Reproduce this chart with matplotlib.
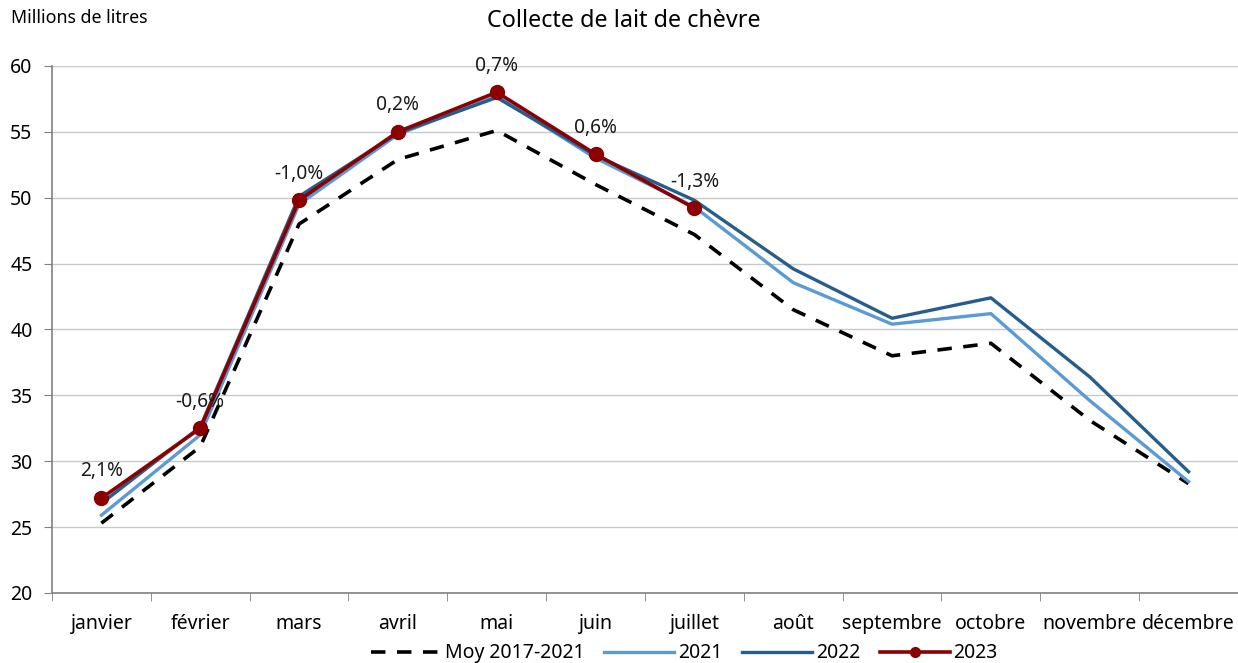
import matplotlib.pyplot as plt

plt.rcParams['font.family'] = ['Noto Sans', 'DejaVu Sans']

mois = ['janvier', 'février', 'mars', 'avril', 'mai', 'juin', 'juillet',
        'août', 'septembre', 'octobre', 'novembre', 'décembre']

moy_2017_2021 = [25.3, 31.1, 48.0, 52.9, 55.1, 51.0, 47.2, 41.5, 38.0, 38.95, 33.1, 28.3]
lait_2021 = [25.9, 32.0, 49.5, 54.8, 57.7, 53.0, 49.3, 43.55, 40.4, 41.2, 34.6, 28.45]
lait_2022 = [26.8, 32.6, 50.1, 54.9, 57.6, 53.2, 49.8, 44.6, 40.85, 42.4, 36.4, 29.2]
lait_2023 = [27.2, 32.5, 49.8, 55.0, 58.0, 53.3, 49.2]
evolution = ['2,1%', '-0,6%', '-1,0%', '0,2%', '0,7%', '0,6%', '-1,3%']

fig = plt.figure(figsize=(12.38, 6.63), dpi=100)
ax = fig.add_axes([0.042, 0.1056, 0.958, 0.795])

x = list(range(len(mois)))
ax.plot(x, moy_2017_2021, color='black', lw=2.6, dashes=(4, 3.2), label='Moy 2017-2021')
ax.plot(x, lait_2021, color='#5b9bd5', lw=2.4, label='2021')
ax.plot(x, lait_2022, color='#255e8c', lw=2.4, label='2022')
ax.plot(range(len(lait_2023)), lait_2023, color='#8b0000', lw=2.6,
        marker='o', markersize=10, label='2023')

for i, (v, txt) in enumerate(zip(lait_2023, evolution)):
    ax.annotate(txt, (i, v), xytext=(0, 12), textcoords='offset points',
                ha='center', va='bottom', fontsize=13.8, color='#1a1a1a')

ax.set_xlim(-0.5, len(mois) - 0.5)
ax.set_ylim(20, 60)
ax.set_yticks(range(20, 61, 5))
ax.set_xticks(x)
ax.set_xticklabels(mois)
ax.set_xticks([i - 0.5 for i in range(len(mois) + 1)], minor=True)
ax.tick_params(axis='x', which='major', length=0, labelsize=14, pad=15)
ax.tick_params(axis='x', which='minor', length=6, color='#808080')
ax.tick_params(axis='y', length=6, color='#808080', labelsize=14, pad=8)
ax.grid(axis='y', color='#c8c8c8', lw=1)
ax.set_axisbelow(True)
for s in ['top', 'right']:
    ax.spines[s].set_visible(False)
for s in ['left', 'bottom']:
    ax.spines[s].set_color('#808080')
    ax.spines[s].set_linewidth(1.2)

fig.text(0.504, 0.968, 'Collecte de lait de chèvre', ha='center', va='center', fontsize=16.8)
fig.text(0.009, 0.973, 'Millions de litres', ha='left', va='center', fontsize=12.8)

leg = fig.legend(loc='lower center', bbox_to_anchor=(0.553, -0.027), ncol=4, frameon=False,
                 fontsize=14, handlelength=3.6, columnspacing=1.0, handletextpad=0.2)
leg.legend_handles[3].set_markersize(7)

fig.savefig('out.png', dpi=100)
